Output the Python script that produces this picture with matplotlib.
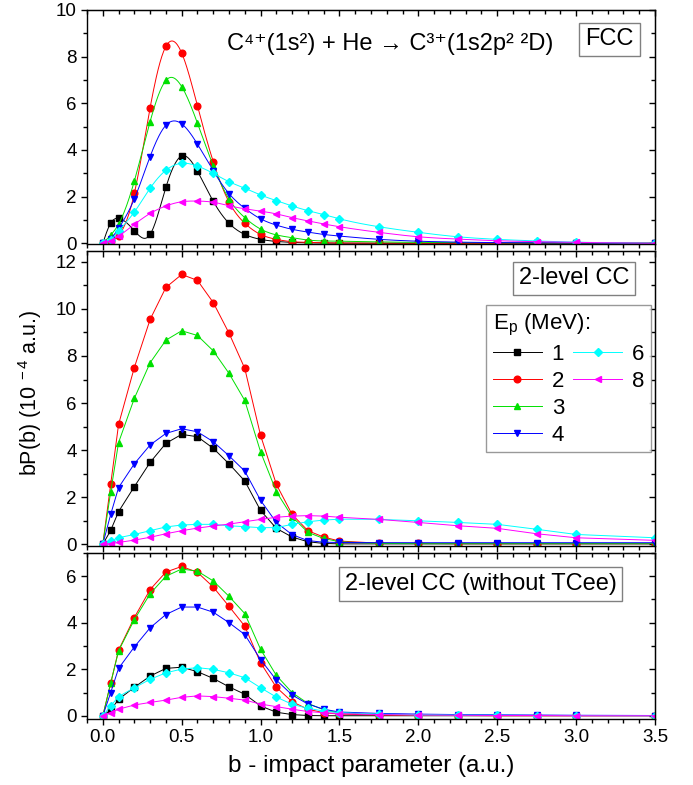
import numpy as np
import matplotlib
matplotlib.use("Agg")
import matplotlib.pyplot as plt
from matplotlib.ticker import MultipleLocator
from matplotlib.lines import Line2D

plt.rcParams['font.family'] = ['Liberation Sans', 'DejaVu Sans']
plt.rcParams['mathtext.fontset'] = 'custom'
plt.rcParams['mathtext.rm'] = 'Liberation Sans'
plt.rcParams['mathtext.it'] = 'Liberation Sans:italic'
plt.rcParams['mathtext.bf'] = 'Liberation Sans:bold'

# impact parameter grid (a.u.)
b = [0, 0.05, 0.1, 0.2, 0.3, 0.4, 0.5, 0.6, 0.7, 0.8, 0.9, 1.0, 1.1, 1.2,
     1.3, 1.4, 1.5, 1.75, 2.0, 2.25, 2.5, 2.75, 3.0, 3.5]

energies = ['1', '2', '3', '4', '6', '8']

# FCC panel
fcc_1 = [0, 0.86, 1.07, 0.54, 0.38, 2.40, 3.74, 3.09, 1.80, 0.86, 0.38, 0.17, 0.08, 0.04,
         0.02, 0.01, 0.01, 0.0, 0, 0, 0, 0, 0, 0]
fcc_2 = [0, 0.09, 0.33, 2.14, 5.81, 8.44, 8.16, 5.89, 3.50, 1.77, 0.86, 0.38, 0.17, 0.07,
         0.04, 0.02, 0.01, 0.01, 0, 0, 0, 0, 0, 0]
fcc_3 = [0, 0.35, 0.82, 2.67, 5.22, 6.98, 6.72, 5.15, 3.33, 1.90, 1.10, 0.61, 0.36, 0.24,
         0.14, 0.10, 0.09, 0.06, 0.04, 0.03, 0.02, 0.01, 0.01, 0.0]
fcc_4 = [0, 0.20, 0.64, 1.90, 3.72, 5.06, 5.12, 4.25, 3.11, 2.13, 1.50, 1.05, 0.78, 0.60,
         0.48, 0.38, 0.31, 0.17, 0.09, 0.05, 0.03, 0.02, 0.01, 0.0]
fcc_6 = [0, 0.15, 0.52, 1.34, 2.36, 3.13, 3.43, 3.31, 3.00, 2.64, 2.36, 2.07, 1.83, 1.60,
         1.40, 1.23, 1.05, 0.71, 0.47, 0.28, 0.17, 0.10, 0.05, 0.0]
fcc_8 = [0, 0.12, 0.31, 0.81, 1.28, 1.60, 1.78, 1.81, 1.76, 1.61, 1.48, 1.38, 1.26, 1.10,
         0.96, 0.83, 0.71, 0.47, 0.28, 0.18, 0.11, 0.07, 0.04, 0.0]

# 2-level CC panel
cc_1 = [0, 0.59, 1.39, 2.45, 3.48, 4.29, 4.67, 4.57, 4.08, 3.42, 2.69, 1.44, 0.68, 0.31,
        0.11, 0.04, 0.02, 0.02, 0.02, 0.02, 0.02, 0.02, 0.02, 0.02]
cc_2 = [0, 2.55, 5.09, 7.51, 9.55, 10.91, 11.46, 11.21, 10.27, 8.97, 7.47, 4.63, 2.55, 1.27,
        0.58, 0.31, 0.14, 0.05, 0.04, 0.03, 0.03, 0.03, 0.03, 0.03]
cc_3 = [0, 2.22, 4.32, 6.20, 7.71, 8.67, 9.07, 8.87, 8.22, 7.26, 6.11, 3.93, 2.24, 1.17,
        0.51, 0.25, 0.11, 0.04, 0.03, 0.03, 0.03, 0.03, 0.03, 0.03]
cc_4 = [0, 1.27, 2.41, 3.42, 4.22, 4.71, 4.91, 4.78, 4.36, 3.76, 3.11, 1.87, 0.93, 0.41,
        0.16, 0.09, 0.08, 0.07, 0.07, 0.07, 0.07, 0.07, 0.07, 0.07]
cc_6 = [0, 0.15, 0.28, 0.42, 0.58, 0.74, 0.82, 0.85, 0.85, 0.79, 0.75, 0.71, 0.71, 0.85,
        0.96, 1.03, 1.07, 1.06, 1.00, 0.93, 0.85, 0.64, 0.42, 0.28]
cc_8 = [0, 0.03, 0.08, 0.18, 0.30, 0.45, 0.58, 0.69, 0.78, 0.86, 0.96, 1.06, 1.15, 1.20,
        1.22, 1.20, 1.15, 1.06, 0.93, 0.79, 0.68, 0.45, 0.28, 0.17]

# 2-level CC without TCee panel
nt_1 = [0, 0.26, 0.71, 1.23, 1.71, 2.04, 2.09, 1.90, 1.61, 1.25, 0.93, 0.43, 0.16, 0.06,
        0.02, 0.01, 0.01, 0.01, 0.01, 0.01, 0.01, 0.01, 0.01, 0.01]
nt_2 = [0, 1.40, 2.82, 4.22, 5.42, 6.17, 6.41, 6.16, 5.53, 4.70, 3.85, 2.28, 1.23, 0.61,
        0.29, 0.14, 0.08, 0.04, 0.02, 0.02, 0.01, 0.01, 0.01, 0.01]
nt_3 = [0, 1.40, 2.79, 4.13, 5.24, 5.99, 6.30, 6.21, 5.79, 5.13, 4.39, 2.86, 1.74, 1.00,
        0.54, 0.26, 0.14, 0.07, 0.04, 0.03, 0.02, 0.02, 0.02, 0.02]
nt_4 = [0, 1.00, 2.04, 2.96, 3.78, 4.35, 4.67, 4.67, 4.45, 4.00, 3.49, 2.42, 1.54, 0.90,
        0.51, 0.29, 0.17, 0.11, 0.08, 0.06, 0.05, 0.04, 0.03, 0.02]
nt_6 = [0, 0.43, 0.83, 1.21, 1.57, 1.85, 2.01, 2.07, 2.00, 1.85, 1.64, 1.21, 0.81, 0.50,
        0.33, 0.21, 0.14, 0.08, 0.05, 0.04, 0.03, 0.02, 0.02, 0.01]
nt_8 = [0, 0.14, 0.29, 0.47, 0.58, 0.68, 0.80, 0.86, 0.83, 0.76, 0.68, 0.51, 0.40, 0.29,
        0.19, 0.14, 0.10, 0.06, 0.04, 0.03, 0.02, 0.02, 0.01, 0.01]

colors = ['#000000', '#ff0000', '#00e000', '#0000ff', '#00ffff', '#ff00ff']
markers = ['s', 'o', '^', 'v', 'D', '<']
msizes = [4.8, 4.8, 5.0, 5.0, 4.0, 5.0]


def natural_spline(x, y, n=600):
    x = np.asarray(x, float)
    y = np.asarray(y, float)
    m = len(x)
    h = np.diff(x)
    A = np.zeros((m, m))
    r = np.zeros(m)
    A[0, 0] = 1
    A[-1, -1] = 1
    for i in range(1, m - 1):
        A[i, i - 1] = h[i - 1]
        A[i, i] = 2 * (h[i - 1] + h[i])
        A[i, i + 1] = h[i]
        r[i] = 3 * ((y[i + 1] - y[i]) / h[i] - (y[i] - y[i - 1]) / h[i - 1])
    c = np.linalg.solve(A, r)
    bb = np.zeros(m - 1)
    d = np.zeros(m - 1)
    for i in range(m - 1):
        bb[i] = (y[i + 1] - y[i]) / h[i] - h[i] * (2 * c[i] + c[i + 1]) / 3
        d[i] = (c[i + 1] - c[i]) / (3 * h[i])
    xs = np.linspace(x[0], x[-1], n)
    idx = np.clip(np.searchsorted(x, xs) - 1, 0, m - 2)
    dx = xs - x[idx]
    ys = y[idx] + bb[idx] * dx + c[idx] * dx ** 2 + d[idx] * dx ** 3
    return xs, ys


W, H = 693, 785
fig = plt.figure(figsize=(W / 100, H / 100), dpi=100)


def px_axes(left, top, right, bottom):
    return fig.add_axes([left / W, 1 - bottom / H, (right - left) / W, (bottom - top) / H])


ax1 = px_axes(87, 10, 655, 244)
ax2 = px_axes(87, 250.7, 655, 546)
ax3 = px_axes(87, 552.7, 655, 719)

panels = [
    (ax1, [fcc_1, fcc_2, fcc_3, fcc_4, fcc_6, fcc_8], True, (-0.03, 10)),
    (ax2, [cc_1, cc_2, cc_3, cc_4, cc_6, cc_8], False, (-0.07, 12.47)),
    (ax3, [nt_1, nt_2, nt_3, nt_4, nt_6, nt_8], False, (-0.13, 7.0)),
]

for ax, series, smooth, ylim in panels:
    for i, ys in enumerate(series):
        if smooth:
            xs_s, ys_s = natural_spline(b, ys)
            ax.plot(xs_s, ys_s, '-', color=colors[i], lw=0.7)
            ax.plot(b, ys, linestyle='none', marker=markers[i], color=colors[i],
                    ms=msizes[i], mec=colors[i], label=energies[i])
        else:
            ax.plot(b, ys, '-', color=colors[i], lw=0.7, marker=markers[i],
                    ms=msizes[i], mec=colors[i], label=energies[i])
    ax.set_xlim(-0.1, 3.5)
    ax.set_ylim(*ylim)
    ax.xaxis.set_major_locator(MultipleLocator(0.5))
    ax.xaxis.set_minor_locator(MultipleLocator(0.1))
    ax.yaxis.set_major_locator(MultipleLocator(2))
    ax.yaxis.set_minor_locator(MultipleLocator(1))
    ax.tick_params(which='both', direction='out', labelsize=13.5, width=1.0, pad=3)
    ax.tick_params(which='major', length=4.5)
    ax.tick_params(which='minor', length=3)
    for s in ax.spines.values():
        s.set_linewidth(1.0)
    # mirrored ticks pointing inward on top and right
    sx = ax.secondary_xaxis('top')
    sx.xaxis.set_major_locator(MultipleLocator(0.5))
    sx.xaxis.set_minor_locator(MultipleLocator(0.1))
    sx.tick_params(which='both', direction='in', labeltop=False, width=1.0)
    sx.tick_params(which='major', length=4.5)
    sx.tick_params(which='minor', length=3)
    sy = ax.secondary_yaxis('right')
    sy.yaxis.set_major_locator(MultipleLocator(2))
    sy.yaxis.set_minor_locator(MultipleLocator(1))
    sy.tick_params(which='both', direction='in', labelright=False, width=1.0)
    sy.tick_params(which='major', length=4.5)
    sy.tick_params(which='minor', length=3)

ax1.tick_params(labelbottom=False)
ax2.tick_params(labelbottom=False)
ax1.set_yticks([0, 2, 4, 6, 8, 10])
ax3.set_yticks([0, 2, 4, 6])

box = dict(boxstyle='square,pad=0.25', fc='white', ec='#808080', lw=1.0)

ax1.text(0.2465, 0.829, 'C⁴⁺(1s²) + He → C³⁺(1s2p² ²D)',
         transform=ax1.transAxes, fontsize=17, ha='left', va='baseline')
ax1.text(0.920, 0.874, 'FCC', transform=ax1.transAxes, fontsize=17,
         ha='center', va='center', bbox=box)
ax2.text(0.857, 0.906, '2-level CC', transform=ax2.transAxes, fontsize=17,
         ha='center', va='center', bbox=box)
ax3.text(0.693, 0.812, '2-level CC (without TCee)', transform=ax3.transAxes,
         fontsize=17, ha='center', va='center', bbox=box)

handles, labels = ax2.get_legend_handles_labels()
blank = Line2D([], [], linestyle='none', marker=None)
handles = handles[:4] + handles[4:] + [blank, blank]
labels = labels[:4] + labels[4:] + [' ', ' ']
leg = ax2.legend(handles, labels, ncol=2, title=r'E$_{\rm p}$ (MeV):', fontsize=16,
                 title_fontsize=16, loc='upper right', bbox_to_anchor=(0.993, 0.816),
                 borderaxespad=0, frameon=True, fancybox=False, edgecolor='#808080',
                 handlelength=2.2, handletextpad=0.45, columnspacing=0.4,
                 labelspacing=0.27, alignment='left', borderpad=0.3)
leg.get_frame().set_linewidth(1.0)

ax3.set_xlabel('b - impact parameter (a.u.)', fontsize=17.5, labelpad=6)
fig.text(0.043, 0.5, r'bP(b) (10$^{\ -4}$ a.u.)', rotation=90, fontsize=15.5,
         ha='center', va='center')

fig.savefig('out.png', dpi=100)
